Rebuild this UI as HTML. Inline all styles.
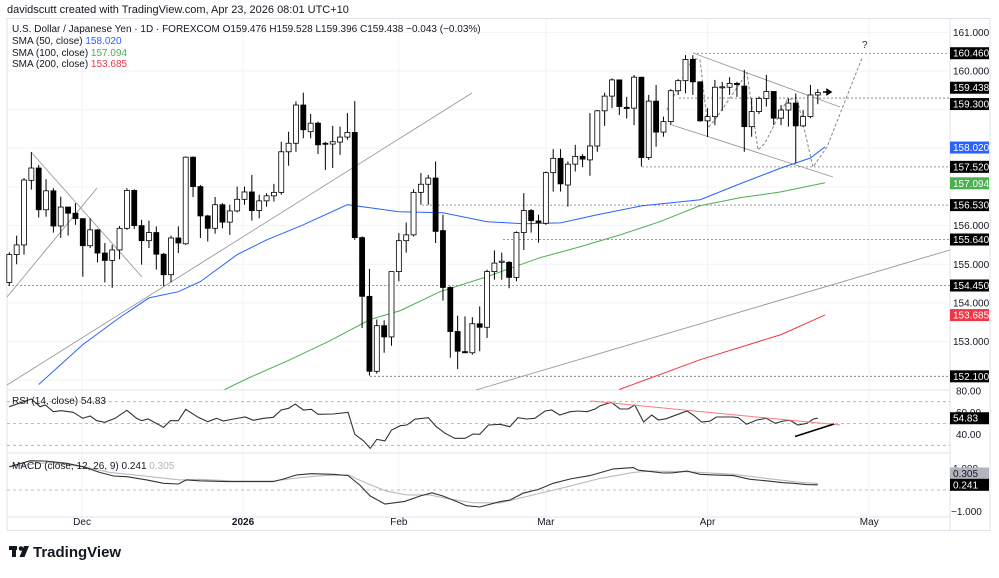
<!DOCTYPE html>
<html><head><meta charset="utf-8"><style>
body{margin:0;background:#fff;width:999px;height:573px;overflow:hidden;font-family:"Liberation Sans",sans-serif}
svg text{font-family:"Liberation Sans",sans-serif}
</style></head><body>
<svg id="c" width="999" height="573" viewBox="0 0 999 573" xmlns="http://www.w3.org/2000/svg">
<rect x="0" y="0" width="999" height="573" fill="#fff"/>
<text x="7" y="13" font-size="11" fill="#131722">davidscutt created with TradingView.com, Apr 23, 2026 08:01 UTC+10</text>
<rect x="7" y="18.5" width="983" height="512" fill="none" stroke="#e0e3eb"/>
<g id="grid"></g>
<g id="hlines"></g>
<g id="draw"></g>
<g id="ma"></g>
<g id="candles"></g>
<g id="ind"></g>
<g id="axis"></g>
<g font-size="10" fill="#131722">
<text x="12" y="32">U.S. Dollar / Japanese Yen · 1D · FOREXCOM  O159.476  H159.528  L159.396  C159.438  −0.043 (−0.03%)</text>
<text x="12" y="44">SMA (50, close) <tspan fill="#2962ff">158.020</tspan></text>
<text x="12" y="56">SMA (100, close) <tspan fill="#4caf50">157.094</tspan></text>
<text x="12" y="67">SMA (200, close) <tspan fill="#f23645">153.685</tspan></text>
<text x="12" y="404">RSI (14, close) <tspan>54.83</tspan></text>
<text x="12" y="469">MACD (close, 12, 26, 9) <tspan>0.241</tspan> <tspan fill="#b2b5be">0.305</tspan></text>
</g>
<g>
<rect x="9" y="546" width="8" height="4" fill="#131722"/><rect x="12" y="546" width="4" height="11" fill="#131722"/>
<circle cx="21" cy="548.5" r="2.3" fill="#131722"/><path d="M24 546 L29 546 L24.5 557 L19.5 557 Z" fill="#131722"/>
<text x="33" y="557" font-size="15" font-weight="bold" fill="#131722">TradingView</text>
</g>
</svg>
<script>
const opens=[154.53,155.25,155.50,157.17,157.49,156.41,156.90,155.99,156.48,156.32,156.18,155.48,155.89,155.29,155.10,155.37,155.93,156.91,156.00,155.61,155.82,155.26,154.73,155.68,155.53,157.77,157.01,156.25,155.93,156.54,156.09,156.38,156.68,
156.87,156.39,156.64,156.77,156.86,157.91,158.13,159.12,158.43,158.65,158.13,158.11,158.16,158.29,158.41,155.69,154.17,152.23,153.41,153.12,154.81,155.61,155.76,156.86,157.07,157.23,155.87,154.40,153.26,152.74,152.71,153.46,153.37,
154.81,155.05,155.05,154.66,155.82,156.39,156.12,156.06,157.37,157.74,157.05,157.59,157.79,157.70,158.06,158.97,159.35,159.77,159.06,159.04,159.84,157.76,159.22,158.42,158.69,159.49,159.75,160.30,
159.72,158.71,158.82,159.57,159.58,159.68,159.61,158.56,158.95,159.29,159.47,158.78,158.99,159.17,158.58,158.82,159.38];
const highs=[155.31,155.74,157.23,157.90,157.57,157.20,156.97,156.75,156.49,156.58,156.19,156.19,155.91,155.55,155.50,155.99,156.97,156.94,156.15,156.13,155.98,155.29,155.74,155.98,157.79,157.79,157.05,156.28,156.74,156.58,156.54,157.01,157.01,
157.31,156.80,156.84,157.08,158.17,158.43,159.21,159.44,158.89,158.69,158.17,158.58,158.56,158.91,159.22,155.72,154.88,153.57,153.55,154.81,155.81,156.08,156.94,157.36,157.31,157.66,156.28,154.43,153.67,153.65,153.63,153.91,154.86,
155.36,155.30,155.08,155.85,156.84,156.43,156.28,157.40,157.98,157.98,157.66,158.09,157.85,158.91,158.99,159.44,159.81,159.77,159.33,159.90,159.85,159.38,159.64,158.82,159.53,159.79,160.41,160.41,
159.72,159.04,159.77,159.72,159.84,159.72,160.03,159.29,159.34,159.90,159.47,159.12,159.29,159.42,158.99,159.64,159.53];
const lows=[154.44,155.00,155.25,156.93,156.21,156.23,155.82,155.68,155.74,156.02,154.68,155.42,155.05,154.53,154.39,155.13,155.89,155.91,154.99,155.42,154.86,154.43,154.53,155.29,155.50,156.74,155.68,155.59,155.79,155.93,155.76,156.34,156.54,
156.13,156.19,156.49,156.62,156.80,157.55,157.91,158.26,158.26,157.85,157.44,157.49,157.83,158.22,155.63,153.35,152.12,152.17,152.71,152.89,154.56,155.30,155.72,156.54,156.54,155.55,154.06,152.58,152.29,152.70,152.66,152.75,153.09,
154.60,154.60,154.38,154.56,155.37,155.82,155.56,156.02,156.88,156.88,156.49,157.40,157.51,157.29,157.91,158.58,159.04,158.86,158.77,158.60,157.53,157.70,158.04,158.30,158.60,159.38,159.42,159.38,
158.69,158.29,158.60,158.97,159.38,159.33,157.91,158.30,158.89,159.08,158.60,158.60,158.56,157.61,158.56,158.78,159.14];
const closes=[155.25,155.50,157.18,157.49,156.41,156.90,155.99,156.48,156.32,156.18,155.48,155.89,155.29,155.10,155.37,155.93,156.91,156.00,155.61,155.82,155.26,154.73,155.68,155.55,157.77,157.01,156.25,155.93,156.54,156.09,156.38,156.68,156.87,
156.39,156.64,156.77,156.86,157.91,158.13,159.12,158.48,158.65,158.09,158.11,158.17,158.29,158.41,155.69,154.17,152.23,153.41,153.12,154.81,155.61,155.76,156.86,157.07,157.23,155.85,154.40,153.26,152.75,152.71,153.46,153.37,154.81,
155.03,155.08,154.66,155.82,156.39,156.13,156.08,157.37,157.74,157.08,157.59,157.79,157.72,158.06,158.97,159.35,159.77,159.08,159.03,159.84,157.76,159.22,158.42,158.69,159.49,159.75,160.30,159.72,
158.71,158.82,159.58,159.59,159.68,159.65,158.56,158.95,159.29,159.47,158.78,158.99,159.17,158.58,158.82,159.38,159.44];
const sma50Idx=[4,10,15,19,23,26,31,35,40,46,53,59,65,70,75,80,86,94,99,105,109,111];
const sma50Val=[151.89,152.92,153.62,154.13,154.29,154.55,155.25,155.63,156.02,156.54,156.36,156.33,156.10,156.05,156.07,156.28,156.51,156.67,157.05,157.49,157.75,158.04];
const sma100Idx=[29.3,32.7,38.2,43.6,49.1,53.2,58.6,65,72.2,77.6,83.1,88.5,93.9,99.4,104.9,111];
const sma100Val=[151.76,152.07,152.53,153.02,153.57,153.80,154.29,154.68,155.17,155.45,155.76,156.10,156.51,156.72,156.87,157.11];
const sma200Idx=[83,94,105,111];
const sma200Val=[151.76,152.53,153.18,153.69];
const rsiIdx=[0,3,4.2,4.9,6,7.1,8.7,10,11,11.9,13,14.4,16,17.3,18,18.9,21,21.9,23,24,25.7,27,28.2,29.1,30.5,32.1,33.2,34.6,35.9,37,38,38.9,40,41.1,42,44.1,46.1,47,48.2,49.1,50,51.1,52,53.2,54.1,55.2,57,58.1,59.3,60.6,62,63.1,64,65.2,66.8,68.1,69.2,70.4,71.5,72.9,73.8,74.9,76.3,77.4,78.6,79.7,80.4,81.9,83.1,84.2,85.1,86.3,87.4,88.3,89.4,90.6,92.2,93.1,94.2,95.3,96.2,98.5,99.2,100.3,101.7,103,104.2,105.3,106.2,107.3,108.5,109.4,110];
const rsiVal=[65.4,72.5,65.4,67,60.8,61.7,60.3,54.8,56.9,52.6,51.1,54.8,62.1,54.8,52.6,54.1,46.5,52.6,52.6,63,55.7,51.7,54.8,52.3,54.1,56,52.9,54.8,55.7,62.4,63.9,67.9,62.4,63,58.4,58.7,60.3,40.1,34,27.2,35.5,34,44,48,48.6,53.9,55.3,47.1,41,36.4,36.4,40.4,40.1,48.6,49.3,47.1,55.3,54.1,54.8,61.5,62.4,57.8,60.8,61.5,60.8,63.3,66.3,69.4,63.3,63.3,67,51.4,57.8,53.2,54.4,57.5,61.5,57.5,51.4,52.1,56,56,55.3,49.3,53.2,54.8,50.2,52.3,52.9,48.6,50.2,54.1,54.83];
const macdIdx=[0,2.8,4.9,7.8,10.1,12.3,14.2,16,18.7,21,23,24.1,25.9,29.6,32.8,35.9,37.3,39.1,41.1,44.1,46.1,47.7,49.1,51.1,53.8,55.9,57.5,59,60.9,62.2,64,66.8,68.1,69.9,72,74,76.3,79,82.2,84.9,85.6,86.7,89,90.3,92.2,94,95.8,98.5,100.8,103,105.3,106.7,108.5,110];
const macdVal=[1.08,1.36,1.35,1.24,1.08,0.82,0.65,0.62,0.47,0.31,0.28,0.47,0.43,0.39,0.39,0.39,0.51,0.70,0.76,0.73,0.67,0.23,-0.28,-0.65,-0.53,-0.28,-0.13,-0.28,-0.54,-0.73,-0.79,-0.54,-0.47,-0.15,0.03,0.31,0.51,0.67,0.98,1.04,0.92,0.88,0.79,0.80,0.88,0.73,0.70,0.67,0.50,0.43,0.34,0.31,0.25,0.241];
const sigIdx=[0,5.5,10.1,13.7,17.8,23.2,25.9,30.5,35.9,39.5,42.7,46.1,48.6,51.3,54.1,57.2,59.9,63.1,66.8,71.3,75.9,80.4,84.9,87.2,92.2,98.5,103,107.6,110];
const sigVal=[1.08,1.29,1.08,0.82,0.67,0.47,0.50,0.42,0.42,0.57,0.67,0.70,0.31,-0.05,-0.23,-0.23,-0.42,-0.59,-0.60,-0.23,0.15,0.54,0.82,0.88,0.85,0.73,0.54,0.36,0.305];
const priceTicks=[161,160,156,155,154,153];
const priceBoxes=[[160.46,"#000",0],[159.438,"#000",-5],[159.30,"#000",6],[158.02,"#2962ff",0],[157.52,"#000",0],[157.094,"#4caf50",0],[156.53,"#000",0],[155.64,"#000",0],[154.45,"#000",0],[153.685,"#f23645",0],[152.10,"#000",0]];
const timeLabels=["Dec","2026","Feb","Mar","Apr","May"];
const timeIdx=[9.9,31.8,53,73,95,117];

const NS="http://www.w3.org/2000/svg";
const X=i=>9.3+i*7.35;
const Y=p=>71-(p-160)*38.65;
const RY=v=>423.5-(v-50)*1.09;
const MY=v=>490-v*21.5;
function mk(parent,tag,attrs){const e=document.createElementNS(NS,tag);for(const k in attrs)e.setAttribute(k,attrs[k]);document.getElementById(parent).appendChild(e);return e;}

for(let p=152;p<=161;p++){const g=mk('grid','line',{x1:7,x2:950,y1:Y(p),y2:Y(p),stroke:'#f2f3f6'});

}
timeIdx.forEach((t,k)=>{const g=mk('grid','line',{x1:X(t),x2:X(t),y1:19,y2:517,stroke:'#f2f3f6'});

});
[[7,950,390,390],[7,950,453,453],[7,950,517,517],[950,950,19,530]].forEach(a=>{const s=mk('grid','line',{x1:a[0],x2:a[1],y1:a[2],y2:a[3],stroke:'#e0e3eb'});

});

const levels=[[154.45,8],[152.10,370],[155.64,503],[156.53,422],[157.52,642],[159.30,679],[160.46,693]];
levels.forEach(l=>{const e=mk('hlines','line',{x1:l[1],x2:950,y1:Y(l[0]),y2:Y(l[0]),stroke:'#777','stroke-dasharray':'2,2','stroke-width':0.8});

});

const tl=[[31,152,142,277],[7,297,97,188],[7,385,472,93],[476,390,950,250],[693,53,840,107],[672,125,833,177]];
tl.forEach(t=>{const e=mk('draw','line',{x1:t[0],y1:t[1],x2:t[2],y2:t[3],stroke:'#999','stroke-width':0.9});

});
const zz=mk('draw','polyline',{points:'667,110 680,83 693,58 700,60 708,128 717,117 747,73 758,150 765,143 787,100 797,98 813,167 827,147 862,58',fill:'none',stroke:'#888','stroke-dasharray':'3,2','stroke-width':1});


const q=mk('draw','text',{x:862,y:48,'font-size':10,fill:'#333'});q.textContent='?';


const ar=mk('draw','path',{d:'M823 92 L829 92 M827 89.5 L831 92 L827 94.5 Z',stroke:'#000','stroke-width':1.5,fill:'#000'});



function pl(parent,idx,val,fy,color,name,w){const pts=idx.map((i,k)=>X(i).toFixed(1)+','+fy(val[k]).toFixed(1)).join(' ');
const e=mk(parent,'polyline',{points:pts,fill:'none',stroke:color,'stroke-width':w||1});

}
pl('ma',sma50Idx,sma50Val,Y,'#2962ff','sma-50-line');
pl('ma',sma100Idx,sma100Val,Y,'#4caf50','sma-100-line');
pl('ma',sma200Idx,sma200Val,Y,'#f23645','sma-200-line');

opens.forEach((o,i)=>{const c=closes[i],x=X(i);
const w=mk('candles','line',{x1:x,x2:x,y1:Y(highs[i]),y2:Y(lows[i]),stroke:'#000','stroke-width':1});


const top=Y(Math.max(o,c)),h=Math.max(1,Y(Math.min(o,c))-top);
const b=mk('candles','rect',{x:x-2.5,y:top,width:5,height:h,fill:c>=o?'#fff':'#000',stroke:'#000','stroke-width':0.8});

});

[70,50,30].forEach(v=>{const e=mk('ind','line',{x1:7,x2:950,y1:RY(v),y2:RY(v),stroke:'#aaa','stroke-dasharray':'3,3','stroke-width':0.8});

});
pl('ind',rsiIdx,rsiVal,RY,'#333','rsi-line',1.1);
const rl=mk('ind','line',{x1:591,y1:401,x2:840,y2:425,stroke:'#f77c80','stroke-width':1});


const bl=mk('ind','line',{x1:795,y1:436.5,x2:834,y2:424,stroke:'#000','stroke-width':1.5});


const z=mk('ind','line',{x1:7,x2:950,y1:MY(0),y2:MY(0),stroke:'#aaa','stroke-dasharray':'3,3','stroke-width':0.8});


pl('ind',sigIdx,sigVal,MY,'#bbb','macd-signal-line',1.1);
pl('ind',macdIdx,macdVal,MY,'#333','macd-line',1.1);

function lab(x,y,t,name,opt){const e=mk('axis','text',Object.assign({x:x,y:y,'font-size':10,fill:'#131722'},opt||{}));e.textContent=t;

return e;}
priceTicks.forEach(p=>lab(953,Y(p)+3.5,p.toFixed(3),'price-tick'));
function box(y,bg,t,name,fg){const r=mk('axis','rect',{x:950,y:y-6,width:39,height:12,fill:bg});


lab(953,y+3.5,t,name,{fill:fg||'#fff'});}
priceBoxes.forEach(b=>box(Y(b[0])+b[2],b[1],b[0].toFixed(3),'price-label'));
lab(956,RY(80)+3.5,'80.00','rsi-tick');
lab(956,RY(60)+3.5,'60.00','rsi-tick');
lab(956,RY(40)+3.5,'40.00','rsi-tick');
box(RY(54.83),'#000','54.83','rsi-value-label');
lab(953,MY(1)+3.5,'1.000','macd-tick');
lab(951,MY(-1)+3.5,'−1.000','macd-tick');
box(MY(0.305)-10,'#b2b5be','0.305','macd-signal-label','#131722');
box(MY(0.241),'#000','0.241','macd-value-label');
timeLabels.forEach((t,k)=>lab(X(timeIdx[k]),525,t,'time-label',{'text-anchor':'middle','font-weight':t==='2026'?'bold':'normal'}));
</script>
</body></html>
